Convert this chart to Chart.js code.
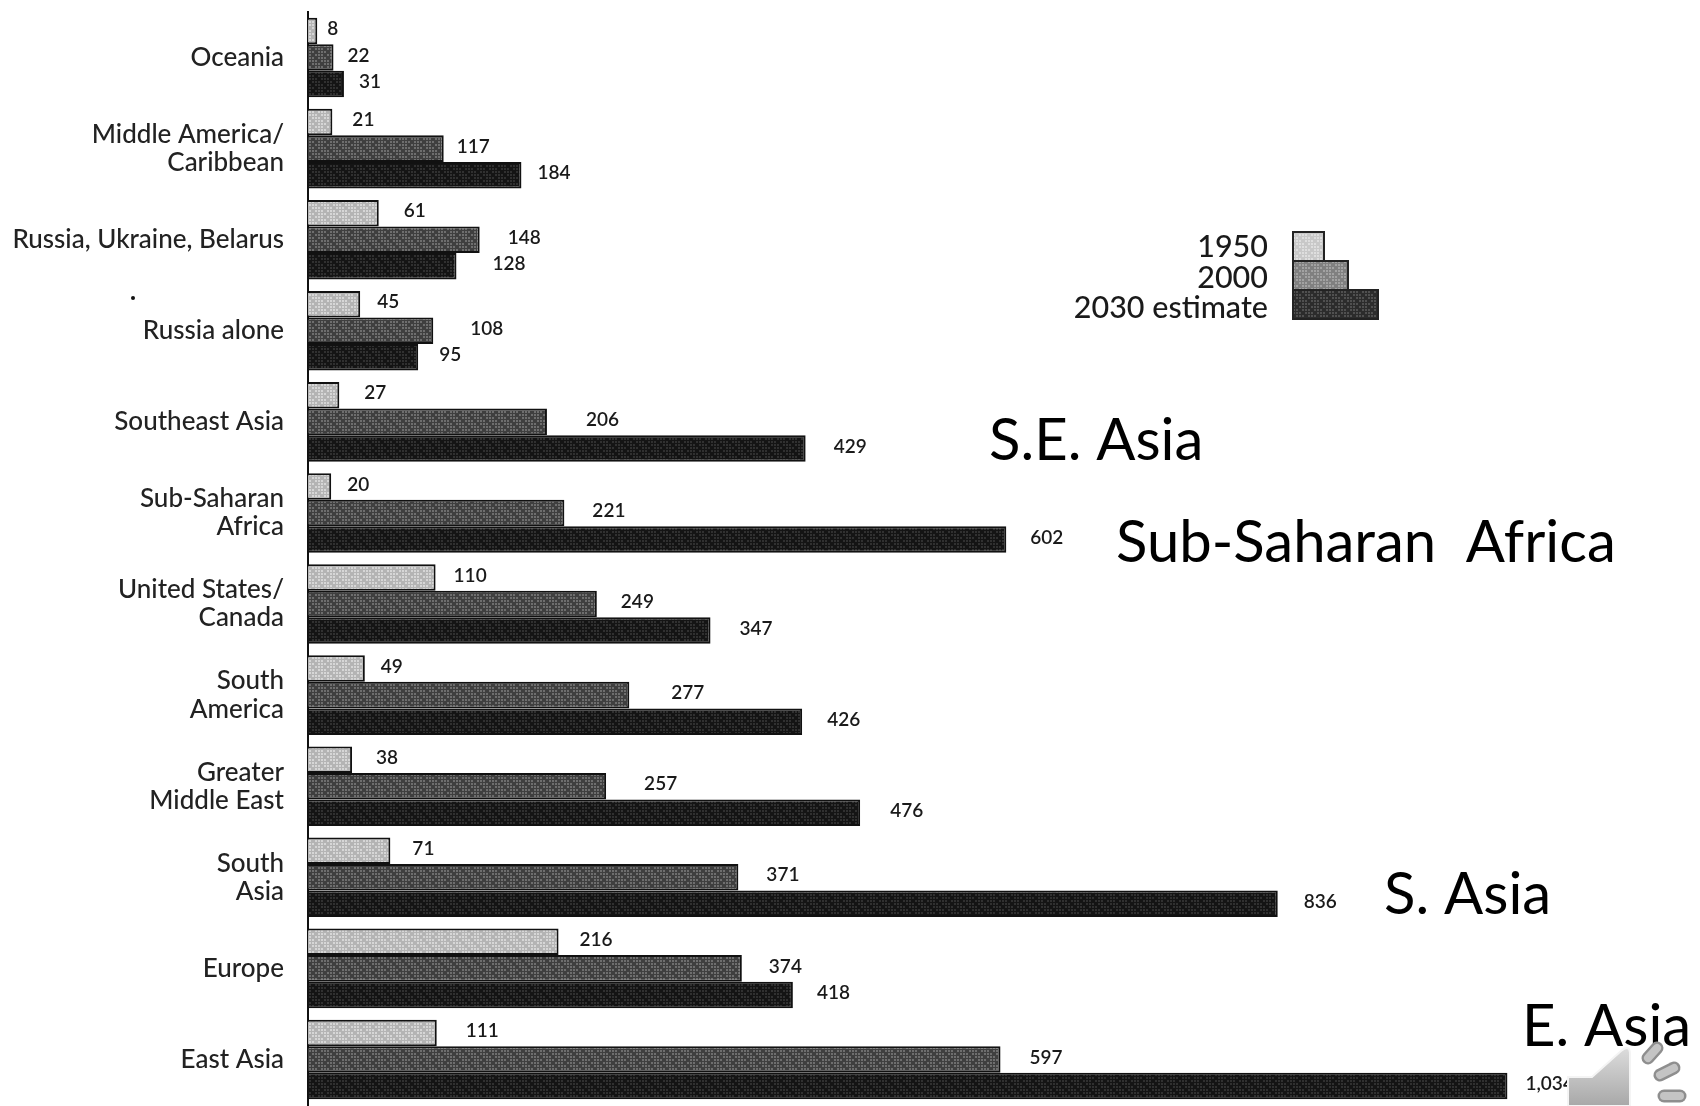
<!DOCTYPE html>
<html>
<head>
<meta charset="utf-8">
<title>Population by region</title>
<script src="https://cdn.jsdelivr.net/npm/chart.js@4"></script>
<style>
    html, body { margin: 0; padding: 0; background: #fff; }
    #wrap { width: 1700px; height: 1106px; }
</style>
</head>
<body>
<div id="wrap"><canvas id="popChart" width="1700" height="1106"></canvas></div>
<script>
const categories = [
    'Oceania',
    ['Middle America/', 'Caribbean'],
    'Russia, Ukraine, Belarus',
    'Russia alone',
    'Southeast Asia',
    ['Sub-Saharan', 'Africa'],
    ['United States/', 'Canada'],
    ['South', 'America'],
    ['Greater', 'Middle East'],
    ['South', 'Asia'],
    'Europe',
    'East Asia'
];
const seriesNames = ['1950', '2000', '2030 estimate'];
const values1950 = [8, 21, 61, 45, 27, 20, 110, 49, 38, 71, 216, 111];
const values2000 = [22, 117, 148, 108, 206, 221, 249, 277, 257, 371, 374, 597];
const values2030 = [31, 184, 128, 95, 429, 602, 347, 426, 476, 836, 418, 1034];

// gap between bar end and its number, the scan is not regular about this
const gaps1950 = [10, 20, 25, 17, 25, 16, 18, 16, 24, 22, 21, 29];
const gaps2000 = [14, 13, 28, 37, 39, 28, 24, 42, 38, 28, 27, 29];
const gaps2030 = [15, 16, 36, 21, 28, 24, 29, 25, 30, 26, 24, 18];

const FONT = 'Lato, "Open Sans", sans-serif';

// scan-like mottled fill for the bars
function mottle(base, light) {
    const tile = document.createElement('canvas');
    tile.width = 24;
    tile.height = 18;
    const c = tile.getContext('2d');
    c.fillStyle = base;
    c.fillRect(0, 0, 24, 18);
    c.fillStyle = light;
    for (let i = 0; i < 8; i++) {
        for (let j = 0; j < 6; j++) {
            if ((i * 5 + j * 7) % 4 !== 0) c.fillRect(i * 3, j * 3, 2, 2);
        }
    }
    return c.createPattern(tile, 'repeat');
}

const fills = [
    mottle('#b4b4b4', '#d6d6d6'),
    mottle('#3f3f3f', '#6e6e6e'),
    mottle('#141414', '#303030')
];
const legendFills = [mottle('#c8c8c8', '#dedede'), mottle('#808080', '#a2a2a2'), mottle('#2c2c2c', '#505050')];

const valueLabels = {
    id: 'valueLabels',
    afterDatasetsDraw(chart) {
        const ctx = chart.ctx;
        const gaps = [gaps1950, gaps2000, gaps2030];
        ctx.save();
        ctx.font = '600 19px ' + FONT;
        ctx.fillStyle = '#1a1a1a';
        ctx.textAlign = 'left';
        ctx.textBaseline = 'middle';
        chart.data.datasets.forEach((ds, s) => {
            chart.getDatasetMeta(s).data.forEach((bar, i) => {
                ctx.fillText(ds.data[i].toLocaleString('en-US'), bar.x + gaps[s][i], bar.y - 2);
            });
        });
        ctx.restore();
    }
};

const stepLegend = {
    id: 'stepLegend',
    afterDraw(chart) {
        const ctx = chart.ctx;
        const widths = [31, 55, 85];
        const baselines = [257, 288, 318];
        ctx.save();
        seriesNames.forEach((name, i) => {
            ctx.fillStyle = legendFills[i];
            ctx.strokeStyle = '#222';
            ctx.lineWidth = 2;
            ctx.fillRect(1293, 232 + i * 29, widths[i], 29);
            ctx.strokeRect(1293, 232 + i * 29, widths[i], 29);
            ctx.font = '500 30.5px ' + FONT;
            ctx.fillStyle = '#1a1a1a';
            ctx.textAlign = 'right';
            ctx.textBaseline = 'alphabetic';
            ctx.fillText(name, 1268, baselines[i]);
        });
        ctx.restore();
    }
};

const notes = [
    { text: 'S.E. Asia', x: 989, y: 460 },
    { text: 'Sub-Saharan  Africa', x: 1116, y: 562 },
    { text: 'S. Asia', x: 1384, y: 914 },
    { text: 'E. Asia', x: 1522, y: 1046 }
];

const slideExtras = {
    id: 'slideExtras',
    afterDraw(chart) {
        const ctx = chart.ctx;
        ctx.save();
        ctx.font = '58px ' + FONT;
        ctx.fillStyle = '#000';
        ctx.textAlign = 'left';
        ctx.textBaseline = 'alphabetic';
        notes.forEach(n => ctx.fillText(n.text, n.x, n.y));

        // stray dot from the scan
        ctx.beginPath();
        ctx.arc(133, 298, 2, 0, Math.PI * 2);
        ctx.fillStyle = '#111';
        ctx.fill();

        // speaker icon of the slide
        const g = ctx.createLinearGradient(0, 1048, 0, 1106);
        g.addColorStop(0, '#dcdcdc');
        g.addColorStop(1, '#a8a8a8');
        ctx.beginPath();
        ctx.moveTo(1568, 1077);
        ctx.lineTo(1592, 1077);
        ctx.lineTo(1621, 1051);
        ctx.quadraticCurveTo(1630, 1044, 1630, 1054);
        ctx.lineTo(1630, 1106);
        ctx.lineTo(1568, 1106);
        ctx.closePath();
        ctx.fillStyle = g;
        ctx.fill();
        ctx.strokeStyle = '#f4f4f4';
        ctx.lineWidth = 2;
        ctx.stroke();

        ctx.lineCap = 'round';
        [[1648, 1058, 1657, 1048], [1660, 1075, 1674, 1068], [1664, 1096, 1680, 1096]].forEach(w => {
            ctx.beginPath();
            ctx.moveTo(w[0], w[1]);
            ctx.lineTo(w[2], w[3]);
            ctx.strokeStyle = '#8e8e8e';
            ctx.lineWidth = 13;
            ctx.stroke();
            ctx.beginPath();
            ctx.moveTo(w[0], w[1]);
            ctx.lineTo(w[2], w[3]);
            ctx.strokeStyle = '#c4c4c4';
            ctx.lineWidth = 8;
            ctx.stroke();
        });
        ctx.restore();
    }
};

new Chart(document.getElementById('popChart'), {
    type: 'bar',
    data: {
        labels: categories,
        datasets: [values1950, values2000, values2030].map((vals, i) => ({
            label: seriesNames[i],
            data: vals,
            backgroundColor: fills[i],
            borderColor: '#111',
            borderWidth: 2,
            barPercentage: 1,
            categoryPercentage: 0.873
        }))
    },
    options: {
        indexAxis: 'y',
        responsive: false,
        animation: false,
        devicePixelRatio: 1,
        layout: { padding: { top: 12, bottom: 1 } },
        plugins: { legend: { display: false }, tooltip: { enabled: false } },
        scales: {
            x: { display: false, min: 0, max: 1200 },
            y: {
                afterFit(axis) {
                    // keep the tall first and last labels from shrinking the plot
                    axis.width = 308;
                    axis.paddingTop = 0;
                    axis.paddingBottom = 0;
                },
                grid: { display: false, drawTicks: false },
                border: { color: '#111', width: 2 },
                ticks: {
                    color: '#222',
                    padding: 24,
                    autoSkip: false,
                    font: { family: FONT, size: 26, weight: '500', lineHeight: 1.08 }
                }
            }
        }
    },
    plugins: [valueLabels, stepLegend, slideExtras]
});
</script>
</body>
</html>
